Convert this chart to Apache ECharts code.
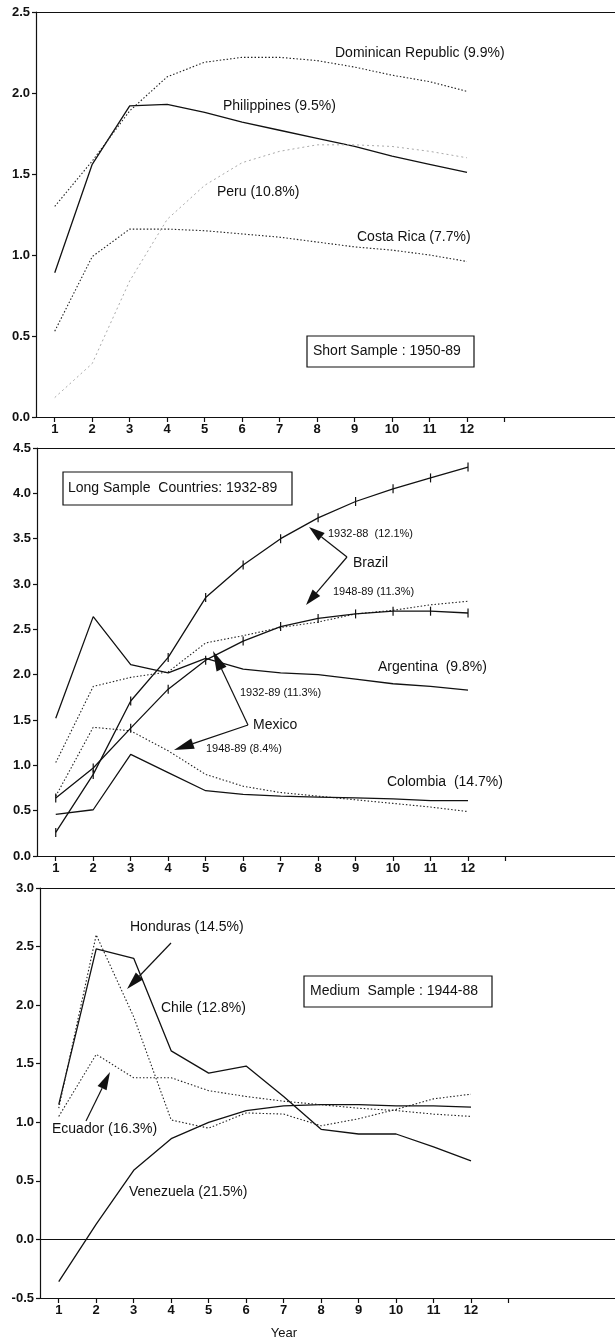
<!DOCTYPE html>
<html><head><meta charset="utf-8">
<script src="https://cdn.jsdelivr.net/npm/echarts@6/dist/echarts.min.js"></script>
<style>html,body{margin:0;padding:0;background:#fff}#c{width:615px;height:1342px}</style>
</head><body><div id="c"></div>
<script>
// ---------- data ----------
const years = [1,2,3,4,5,6,7,8,9,10,11,12];
const xTickLabels = [1,2,3,4,5,6,7,8,9,10,11,12];
const xTickMarks = [1,2,3,4,5,6,7,8,9,10,11,12,13];
// Panel 1: Short sample 1950-89
const philippines       = [0.89,1.56,1.92,1.93,1.88,1.82,1.77,1.72,1.67,1.61,1.56,1.51];
const dominicanRepublic = [1.30,1.58,1.89,2.10,2.19,2.22,2.22,2.20,2.16,2.11,2.07,2.01];
const costaRica         = [0.53,0.99,1.16,1.16,1.15,1.13,1.11,1.08,1.05,1.03,1.00,0.96];
const peru              = [0.12,0.33,0.84,1.22,1.43,1.57,1.64,1.68,1.68,1.67,1.64,1.60];
// Panel 2: Long sample 1932-89
const brazil3288  = [0.26,0.90,1.71,2.19,2.85,3.21,3.50,3.73,3.91,4.05,4.17,4.29];
const brazil4889  = [0.64,0.97,1.41,1.84,2.16,2.37,2.53,2.62,2.67,2.70,2.70,2.68];
const mexico3289  = [1.03,1.87,1.97,2.03,2.35,2.43,2.52,2.58,2.67,2.71,2.77,2.81];
const mexico4889  = [0.66,1.42,1.38,1.16,0.90,0.77,0.70,0.66,0.62,0.58,0.54,0.49];
const argentina   = [1.52,2.64,2.11,2.02,2.18,2.06,2.02,2.00,1.95,1.90,1.87,1.83];
const colombia    = [0.46,0.51,1.12,0.92,0.72,0.68,0.66,0.65,0.64,0.63,0.61,0.61];
// Panel 3: Medium sample 1944-88
const chile     = [1.15,2.48,2.40,1.61,1.42,1.48,1.22,0.94,0.90,0.90,0.79,0.67];
const honduras  = [1.12,2.60,1.90,1.02,0.95,1.08,1.07,0.97,1.03,1.11,1.20,1.24];
const ecuador   = [1.05,1.58,1.38,1.38,1.27,1.22,1.18,1.15,1.12,1.10,1.07,1.05];
const venezuela = [-0.36,0.13,0.59,0.86,1.00,1.10,1.14,1.15,1.15,1.14,1.14,1.13];

// ---------- styles ----------
const INK = '#111';
const FONT = '"Liberation Sans", Arial, sans-serif';
const solid  = {color: INK, width: 1.3, type: 'solid'};
const dotted = {color: '#222', width: 1.1, type: [1.5, 2]};
const faint  = {color: '#aaa', width: 1, type: [2, 3]};

function pairs(vals){ return years.map((y,i)=>[y, vals[i]]); }
function line(name, vals, g, style, ticks){
  return {
    name, type:'line', xAxisIndex:g, yAxisIndex:g, data: pairs(vals),
    lineStyle: style, itemStyle:{color: INK},
    symbol: ticks ? 'rect' : 'none', symbolSize: ticks ? [1.2, 9] : 0,
    silent:true, z: ticks ? 3 : 2
  };
}

const PXU = 37.48; // pixels per year
const lefts = [36, 37, 40];
const grids = [
  {left:36, top:12,  right:0, height:405},
  {left:37, top:448, right:0, height:408},
  {left:40, top:888, right:0, height:410}
];

function xAx(i){
  return {
    type:'value', gridIndex:i, min:0.5, max:0.5 + (615 - lefts[i]) / PXU,
    axisLine:{show:true, onZero:false, lineStyle:{color:INK, width:1.2}},
    axisTick:{show:true, inside:false, length:5, customValues: xTickMarks, lineStyle:{color:INK, width:1.2}},
    axisLabel:{show:true, customValues: xTickLabels, margin:6, fontFamily:FONT, fontSize:13, fontWeight:'bold', color:INK},
    splitLine:{show:false}
  };
}
function xTop(i){
  return {
    type:'value', gridIndex:i, position:'top', min:0, max:1,
    axisLine:{show:true, onZero:false, lineStyle:{color:INK, width:1.2}},
    axisTick:{show:false}, axisLabel:{show:false}, splitLine:{show:false}
  };
}
function yAx(i, min, max){
  return {
    type:'value', gridIndex:i, min, max, interval:0.5,
    axisLine:{show:true, onZero:false, lineStyle:{color:INK, width:1.2}},
    axisTick:{show:true, inside:false, length:4, lineStyle:{color:INK, width:1.2}},
    axisLabel:{margin:6, fontFamily:FONT, fontSize:13, fontWeight:'bold', color:INK, formatter:v=>v.toFixed(1)},
    splitLine:{show:false}
  };
}

const series = [
  line('Philippines', philippines, 0, solid),
  line('Dominican Republic', dominicanRepublic, 0, dotted),
  line('Costa Rica', costaRica, 0, dotted),
  line('Peru', peru, 0, faint),
  line('Brazil 1932-88', brazil3288, 1, solid, true),
  line('Brazil 1948-89', brazil4889, 1, solid, true),
  line('Mexico 1932-89', mexico3289, 1, dotted),
  line('Mexico 1948-89', mexico4889, 1, dotted),
  line('Argentina', argentina, 1, solid),
  line('Colombia', colombia, 1, solid),
  line('Chile', chile, 2, solid),
  line('Honduras', honduras, 2, dotted),
  line('Ecuador', ecuador, 2, dotted),
  Object.assign(line('Venezuela', venezuela, 2, solid), {
    markLine:{silent:true, symbol:'none', label:{show:false}, animation:false,
      lineStyle:{color:INK, width:1.2, type:'solid'}, data:[{yAxis:0}]}
  })
];

// ---------- annotations (pixel layout) ----------
const g = [];
function txt(s, x, y, size, align){
  g.push({type:'text', x, y, silent:true, z:10,
    style:{text:s, fill:INK, font:`${size||14}px ${FONT}`, textAlign:align||'left', textVerticalAlign:'middle'}});
}
function box(s, x, y, w, h, tx){
  g.push({type:'rect', shape:{x, y, width:w, height:h}, silent:true, z:9,
    style:{fill:'#fff', stroke:INK, lineWidth:1.2}});
  txt(s, tx, y + h/2, 14);
}
function seg(x1,y1,x2,y2){
  g.push({type:'line', shape:{x1,y1,x2,y2}, silent:true, z:10, style:{stroke:INK, lineWidth:1.2}});
}
function arrow(x1,y1,x2,y2,L,W){
  L = L||16; W = W||4.5;
  const dx=x2-x1, dy=y2-y1, d=Math.hypot(dx,dy), ux=dx/d, uy=dy/d;
  const bx=x2-ux*L, by=y2-uy*L, nx=-uy, ny=ux;
  seg(x1,y1,bx,by);
  g.push({type:'polygon', silent:true, z:10,
    shape:{points:[[x2,y2],[bx+nx*W,by+ny*W],[bx-nx*W,by-ny*W]]}, style:{fill:INK}});
}
// panel 1
txt('Dominican Republic (9.9%)', 335, 53);
txt('Philippines (9.5%)', 223, 106);
txt('Peru (10.8%)', 217, 192);
txt('Costa Rica (7.7%)', 357, 237);
box('Short Sample : 1950-89', 307, 336, 167, 31, 313);
// panel 2
box('Long Sample  Countries: 1932-89', 63, 472, 229, 33, 68);
txt('1932-88  (12.1%)', 328, 534, 11);
txt('Brazil', 353, 563);
txt('1948-89 (11.3%)', 333, 592, 11);
arrow(347, 557, 309, 527, 16, 5);
arrow(347, 557, 306, 605, 16, 5);
txt('Argentina  (9.8%)', 378, 667);
txt('1932-89 (11.3%)', 240, 693, 11);
txt('Mexico', 253, 725);
txt('1948-89 (8.4%)', 206, 749, 11);
arrow(248, 725, 213, 651, 20, 5.5);
arrow(248, 725, 174, 750, 20, 5.5);
txt('Colombia  (14.7%)', 387, 782);
// panel 3
txt('Honduras (14.5%)', 130, 927);
arrow(171, 943, 127, 989, 18, 5);
box('Medium  Sample : 1944-88', 304, 976, 188, 31, 310);
txt('Chile (12.8%)', 161, 1008);
txt('Ecuador (16.3%)', 52, 1129);
arrow(86, 1121, 110, 1072, 18, 5);
txt('Venezuela (21.5%)', 129, 1192);
txt('Year', 284, 1333, 13, 'center');

const chart = echarts.init(document.getElementById('c'), null, {renderer:'canvas'});
chart.setOption({
  animation:false,
  backgroundColor:'#fff',
  grid: grids,
  xAxis: [xAx(0), xAx(1), xAx(2), xTop(0), xTop(1), xTop(2)],
  yAxis: [yAx(0,0,2.5), yAx(1,0,4.5), yAx(2,-0.5,3.0)],
  series,
  graphic: g
});
</script></body></html>
